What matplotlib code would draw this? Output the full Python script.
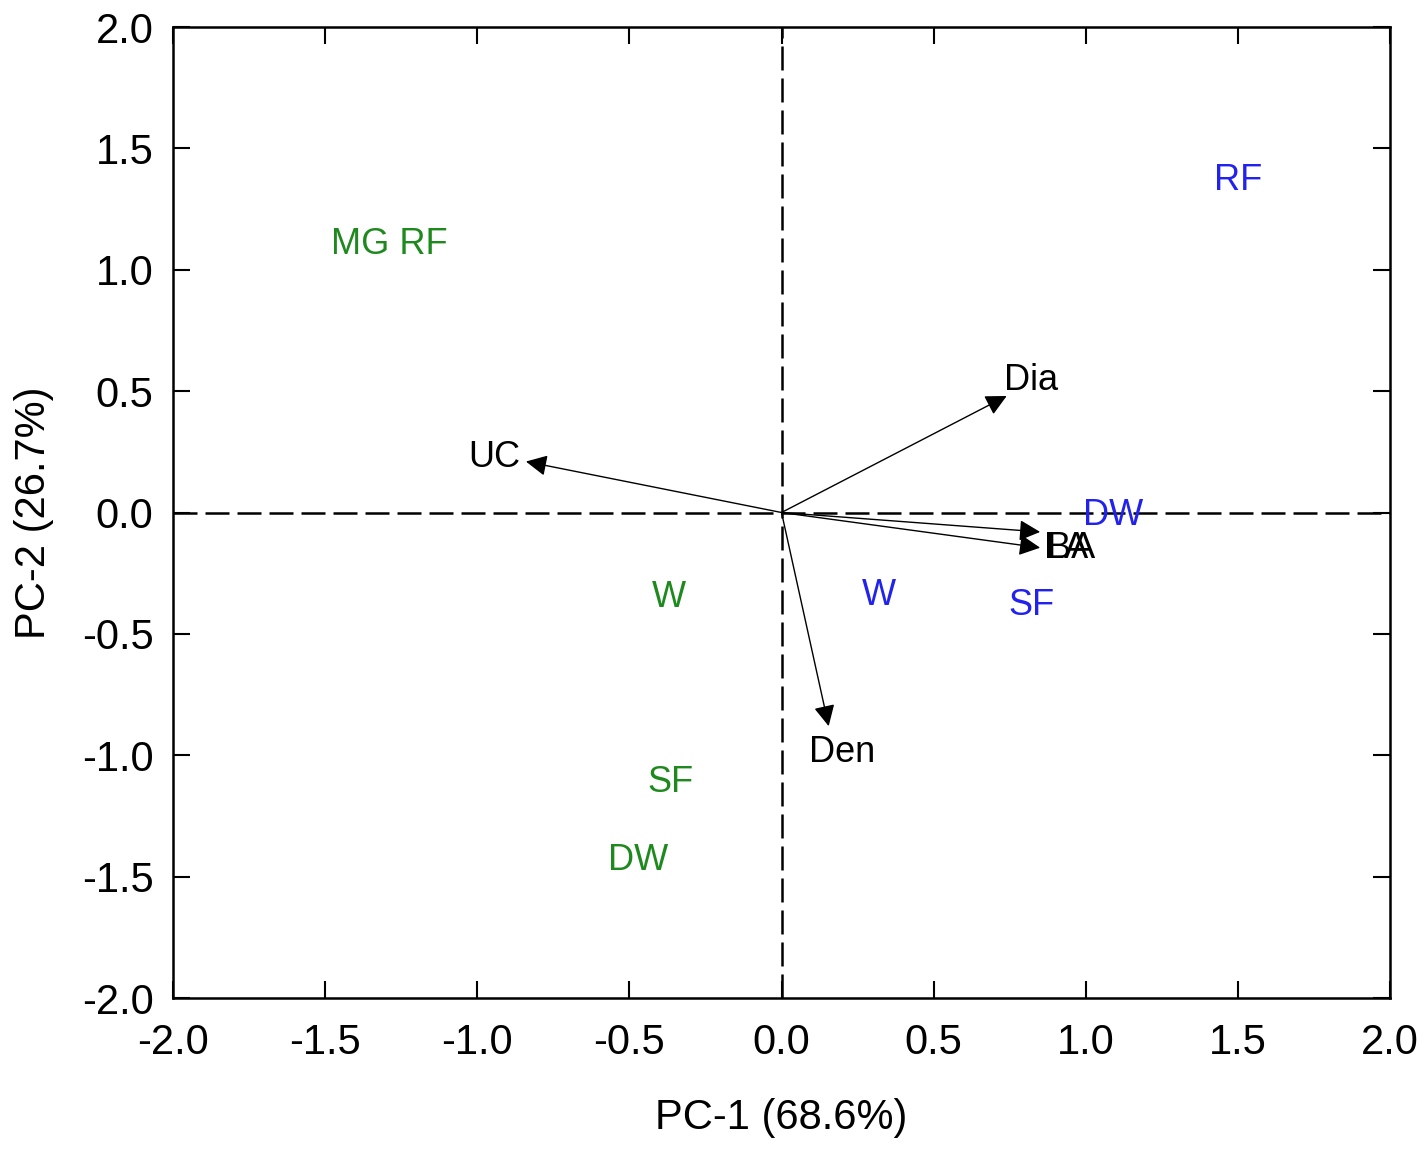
import matplotlib
matplotlib.use("Agg")
import matplotlib.pyplot as plt

plt.rcParams["font.family"] = ["Liberation Sans", "DejaVu Sans"]
plt.rcParams["axes.unicode_minus"] = False

# loading vectors (arrow tips) and their label positions
var_names = ["UC", "Dia", "BA", "LA", "Den"]
var_x = [-0.84, 0.74, 0.85, 0.85, 0.155]
var_y = [0.21, 0.48, -0.08, -0.145, -0.88]
var_label_x = [-1.03, 0.73, 0.872, 0.862, 0.09]
var_label_y = [0.228, 0.543, -0.147, -0.147, -0.987]

# group scores (green series)
green_names = ["MG RF", "W", "SF", "DW"]
green_x = [-1.29, -0.37, -0.365, -0.47]
green_y = [1.103, -0.352, -1.112, -1.432]

# group scores (blue series)
blue_names = ["RF", "DW", "W", "SF"]
blue_x = [1.50, 1.09, 0.32, 0.82]
blue_y = [1.368, -0.012, -0.342, -0.382]

ticks = [-2.0, -1.5, -1.0, -0.5, 0.0, 0.5, 1.0, 1.5, 2.0]

GREEN = "#1e8a1e"
BLUE = "#2222ee"
TEXT_SIZE = 26
TICK_SIZE = 30

fig = plt.figure(figsize=(14.26, 11.49), dpi=100)
ax = fig.add_axes([0.1213, 0.1314, 0.8535, 0.8451])

ax.axhline(0, color="black", lw=1.8, ls=(0, (9.6, 3.2)), zorder=1)
ax.axvline(0, color="black", lw=1.8, ls=(0, (9.6, 3.2)), zorder=1)

for name, x, y, lx, ly in zip(var_names, var_x, var_y, var_label_x, var_label_y):
    ax.annotate("", xy=(x, y), xytext=(0, 0),
                arrowprops=dict(arrowstyle="-|>", color="black", lw=1.0,
                                mutation_scale=32, shrinkA=0, shrinkB=0))
    ax.text(lx, ly, name, fontsize=TEXT_SIZE, color="black",
            ha="left", va="center")

for name, x, y in zip(green_names, green_x, green_y):
    ax.text(x, y, name, fontsize=TEXT_SIZE, color=GREEN, ha="center", va="center")

for name, x, y in zip(blue_names, blue_x, blue_y):
    ax.text(x, y, name, fontsize=TEXT_SIZE, color=BLUE, ha="center", va="center")

ax.set_xlim(-2, 2)
ax.set_ylim(-2, 2)
ax.set_xticks(ticks)
ax.set_yticks(ticks)
ax.set_xticklabels([f"{t:.1f}" for t in ticks])
ax.set_yticklabels([f"{t:.1f}" for t in ticks])
ax.tick_params(direction="in", length=12, width=1.5, labelsize=TICK_SIZE,
               top=True, right=True)
ax.tick_params(axis="x", pad=18)
ax.tick_params(axis="y", pad=14)
for spine in ax.spines.values():
    spine.set_linewidth(1.8)

ax.set_xlabel("PC-1 (68.6%)", fontsize=TICK_SIZE, labelpad=25)
ax.set_ylabel("PC-2 (26.7%)", fontsize=TICK_SIZE, labelpad=20)

fig.savefig("out.png", dpi=100)
